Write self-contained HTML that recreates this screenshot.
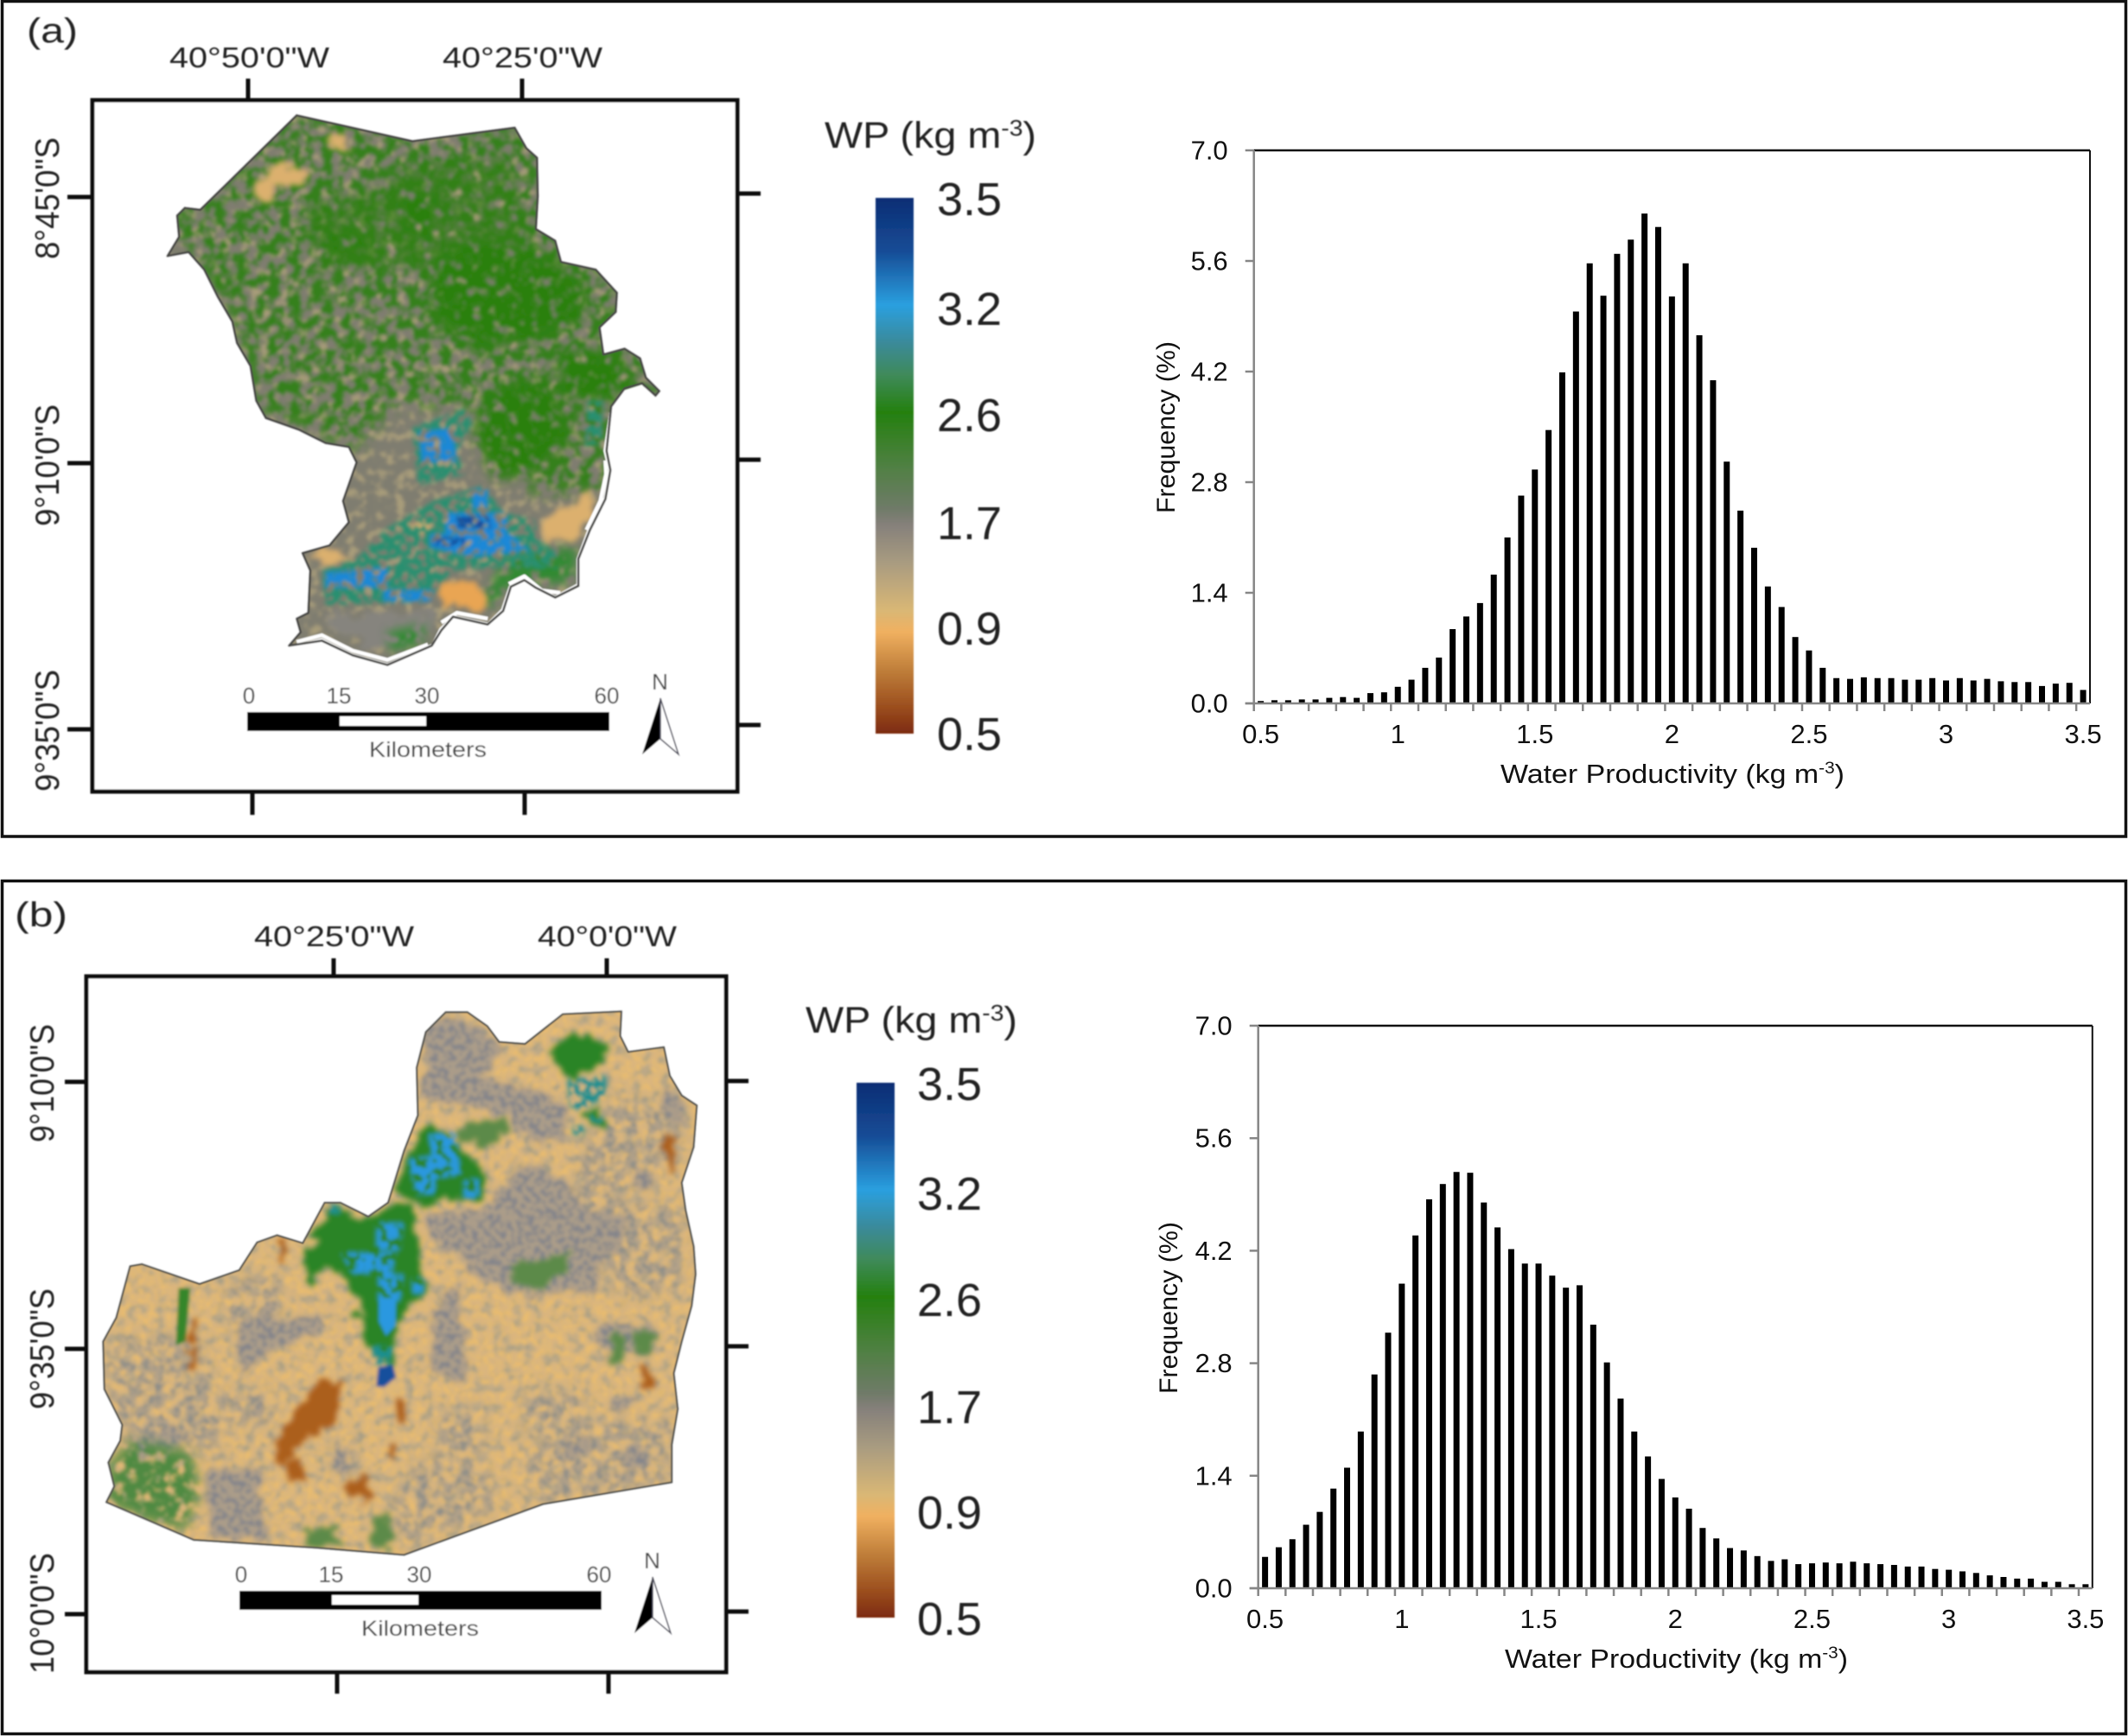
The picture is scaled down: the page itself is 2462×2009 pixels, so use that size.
<!DOCTYPE html>
<html lang="en">
<head>
<meta charset="utf-8">
<title>Water productivity maps and histograms</title>
<style>
html,body{margin:0;padding:0;background:#fff;}
svg{display:block;}
text{font-family:"Liberation Sans",Arial,sans-serif;}
</style>
</head>
<body>
<svg id="figure" xmlns="http://www.w3.org/2000/svg" width="2462" height="2009" viewBox="0 0 2462 2009">
<defs>
  <linearGradient id="wp-ramp" x1="0" y1="0" x2="0" y2="1">
    <stop offset="0" stop-color="#0b2d74"/>
    <stop offset=".1" stop-color="#164c96"/>
    <stop offset=".2" stop-color="#2a9fdf"/>
    <stop offset=".27" stop-color="#3a8a9a"/>
    <stop offset=".33" stop-color="#3f8a5a"/>
    <stop offset=".4" stop-color="#24800f"/>
    <stop offset=".5" stop-color="#4f8042"/>
    <stop offset=".58" stop-color="#6f7a68"/>
    <stop offset=".61" stop-color="#85807a"/>
    <stop offset=".68" stop-color="#a89b80"/>
    <stop offset=".77" stop-color="#d9b775"/>
    <stop offset=".81" stop-color="#f0b060"/>
    <stop offset=".88" stop-color="#c07f3a"/>
    <stop offset=".95" stop-color="#9b4e1e"/>
    <stop offset="1" stop-color="#7c2a10"/>
  </linearGradient>
  <filter id="soft" x="-2%" y="-2%" width="104%" height="104%"><feGaussianBlur stdDeviation="0.9"/></filter>
  <filter id="raster-blur" x="-2%" y="-2%" width="104%" height="104%"><feGaussianBlur stdDeviation="4"/></filter>
  <filter id="fine-a" x="-10%" y="-10%" width="120%" height="120%" color-interpolation-filters="sRGB">
    <feTurbulence type="fractalNoise" baseFrequency=".036" numOctaves="3" seed="4" result="n"/>
    <feColorMatrix in="n" type="matrix" values="0 0 0 0 0 0 0 0 0 0 0 0 0 0 0 5 0 0 0 -2.0" result="a"/>
    <feGaussianBlur in="SourceGraphic" stdDeviation="18" result="b"/>
    <feComposite in="b" in2="a" operator="in"/>
  </filter>
  <filter id="fine-b" x="-10%" y="-10%" width="120%" height="120%" color-interpolation-filters="sRGB">
    <feTurbulence type="fractalNoise" baseFrequency=".04" numOctaves="3" seed="11" result="n"/>
    <feColorMatrix in="n" type="matrix" values="0 0 0 0 0 0 0 0 0 0 0 0 0 0 0 5 0 0 0 -2.5" result="a"/>
    <feGaussianBlur in="SourceGraphic" stdDeviation="12" result="b"/>
    <feComposite in="b" in2="a" operator="in"/>
  </filter>
  <filter id="core" x="-10%" y="-10%" width="120%" height="120%" color-interpolation-filters="sRGB">
    <feTurbulence type="fractalNoise" baseFrequency=".04" numOctaves="3" seed="7" result="n"/>
    <feColorMatrix in="n" type="matrix" values="0 0 0 0 0 0 0 0 0 0 0 0 0 0 0 5 0 0 0 -1.5" result="a"/>
    <feGaussianBlur in="SourceGraphic" stdDeviation="14" result="b"/>
    <feComposite in="b" in2="a" operator="in"/>
  </filter>
  <filter id="organic" x="-15%" y="-15%" width="130%" height="130%" color-interpolation-filters="sRGB">
    <feTurbulence type="fractalNoise" baseFrequency=".025" numOctaves="3" seed="3" result="n"/>
    <feDisplacementMap in="SourceGraphic" in2="n" scale="55" xChannelSelector="R" yChannelSelector="G" result="d"/>
    <feGaussianBlur in="d" stdDeviation="6"/>
  </filter>
  <filter id="speck" x="-10%" y="-10%" width="120%" height="120%" color-interpolation-filters="sRGB">
    <feTurbulence type="fractalNoise" baseFrequency=".07" numOctaves="2" seed="21" result="n"/>
    <feColorMatrix in="n" type="matrix" values="0 0 0 0 0 0 0 0 0 0 0 0 0 0 0 7 0 0 0 -2.75" result="a"/>
    <feGaussianBlur in="SourceGraphic" stdDeviation="4" result="b"/>
    <feComposite in="b" in2="a" operator="in"/>
  </filter>
  <filter id="speck2" x="-10%" y="-10%" width="120%" height="120%" color-interpolation-filters="sRGB">
    <feTurbulence type="fractalNoise" baseFrequency=".05" numOctaves="2" seed="31" result="n"/>
    <feColorMatrix in="n" type="matrix" values="0 0 0 0 0 0 0 0 0 0 0 0 0 0 0 7 0 0 0 -2.6" result="a"/>
    <feGaussianBlur in="SourceGraphic" stdDeviation="5" result="b"/>
    <feComposite in="b" in2="a" operator="in"/>
  </filter>
  <clipPath id="clip-a"><path d="M545,30L845,97L1110,62L1140,115L1168,140L1170,240L1165,325L1215,355L1230,410L1320,430L1375,490L1372,540L1330,580L1340,650L1395,635L1435,660L1450,710L1485,745L1475,757L1440,730L1395,745L1355,800L1340,900L1352,950L1340,1020L1300,1100L1270,1180L1270,1245L1215,1275L1165,1250L1135,1230L1095,1250L1075,1310L1040,1345L950,1325L915,1360L895,1400L780,1450L690,1425L610,1385L525,1405L555,1370L545,1335L575,1320L580,1210L560,1165L630,1145L680,1085L665,1030L700,930L680,890L620,880L550,845L465,815L440,770L425,680L390,620L378,565L340,500L305,430L265,385L210,395L240,345L235,290L255,270L295,275Z"/></clipPath>
  <clipPath id="clip-b"><path d="M905,90L960,90L1010,125L1040,165L1105,170L1200,95L1348,88L1345,150L1365,190L1455,178L1470,250L1500,300L1538,325L1530,430L1500,520L1510,590L1530,680L1535,750L1525,830L1500,920L1480,1000L1490,1090L1475,1180L1475,1275L1150,1330L800,1458L580,1440L270,1420L50,1325L70,1285L55,1225L85,1170L90,1130L45,1040L42,920L75,860L110,730L140,725L285,775L385,740L430,670L480,652L545,672L600,570L640,570L710,605L760,570L800,440L835,350L832,230L855,140Z"/></clipPath>
</defs>

<rect width="2462" height="2009" fill="#fff"/>
<rect x="2.5" y="1.5" width="2457" height="966.5" fill="none" stroke="#111" stroke-width="3.5"/>
<rect x="2.5" y="1019.5" width="2457" height="987" fill="none" stroke="#111" stroke-width="3.5"/>

<!-- PANEL A MAP -->
<g filter="url(#soft)">
  <text x="31" y="49" font-size="40" fill="#222" textLength="59" lengthAdjust="spacingAndGlyphs">(a)</text>
  <rect x="107" y="116" width="746" height="800" fill="#fff" stroke="#111" stroke-width="5"/>
  <g stroke="#111" stroke-width="5">
    <path d="M287,91V116M604,91V116M292,916V943M607,916V943M78,228H107M78,536H107M78,844H107M853,224H880M853,532H880M853,839H880"/>
  </g>
  <text x="196" y="78" font-size="33" fill="#222" textLength="185" lengthAdjust="spacingAndGlyphs">40°50'0"W</text>
  <text x="512" y="78" font-size="33" fill="#222" textLength="185" lengthAdjust="spacingAndGlyphs">40°25'0"W</text>
  <text transform="translate(68,300) rotate(-90)" font-size="39" fill="#222" textLength="141" lengthAdjust="spacingAndGlyphs">8°45'0"S</text>
  <text transform="translate(68,609) rotate(-90)" font-size="39" fill="#222" textLength="141" lengthAdjust="spacingAndGlyphs">9°10'0"S</text>
  <text transform="translate(68,916) rotate(-90)" font-size="39" fill="#222" textLength="141" lengthAdjust="spacingAndGlyphs">9°35'0"S</text>

  <g transform="translate(100,120) scale(.4464)">
    <g clip-path="url(#clip-a)">
      <g filter="url(#raster-blur)">
        <rect x="150" y="0" width="1400" height="1500" fill="#7f7d70"/>
        <rect x="150" y="0" width="1400" height="1500" fill="#a89c7a" filter="url(#fine-b)"/>
        <path fill="#35801c" filter="url(#fine-a)" d="M200,300L560,0L1150,40L1220,340L1400,480L1500,740L1370,800L1340,1010L1150,1010L1000,790L800,780L700,900L450,800L360,520Z"/>
        <path fill="#2f8014" fill-opacity=".65" filter="url(#core)" d="M560,260L760,220L820,160L1090,130L1150,330L900,420L600,430Z"/>
        <path fill="#2c8010" filter="url(#core)" d="M880,420L1000,340L1170,370L1300,480L1290,560L1150,620L1000,640L900,560Z"/>
        <path fill="#2c8010" filter="url(#core)" d="M1220,640L1330,640L1440,700L1350,770L1230,760ZM1040,740L1200,700L1260,860L1180,950L1060,980L1000,860Z"/>
        <path fill="#2c8010" filter="url(#core)" d="M620,340L720,320L730,390L620,390ZM810,220L900,230L900,350L830,350ZM330,430L380,440L370,490L340,490Z"/>
        <g fill="#dcb06e" filter="url(#organic)">
          <path d="M440,200L500,150L570,170L560,215L500,215L470,260L440,250Z"/>
          <path d="M625,75L670,80L680,125L630,110Z"/>
          <path d="M1180,1085L1225,1055L1300,1010L1310,1060L1270,1130L1180,1130Z"/>
          <path d="M570,1165L640,1150L700,1190L620,1200Z"/>
          <path d="M830,1085L890,1085L880,1110L830,1110Z"/>
        </g>
        <path fill="#86847e" filter="url(#organic)" d="M620,1320L900,1320L880,1390L780,1420L640,1380Z"/>
        <path fill="#2f8a30" filter="url(#core)" d="M1090,1170L1270,1150L1260,1240L1090,1250L1060,1300L1020,1300ZM780,1370L880,1350L870,1400L790,1420Z"/>
        <path fill="#e9a552" filter="url(#organic)" d="M915,1245L1010,1235L1045,1295L1030,1315L950,1310L915,1305Z"/>
        <g fill="#2a8f70" filter="url(#speck2)">
          <path d="M845,840L980,790L1000,830L960,900L980,960L860,990Z"/>
          <path d="M900,1030L1030,990L1080,1060L1160,1080L1170,1130L1215,1160L1220,1210L1100,1200L950,1210L880,1290L620,1300L610,1210L700,1180L780,1100Z"/>
          <path d="M1300,770L1340,770L1335,880L1290,890Z"/>
        </g>
        <g fill="#1c88d8" filter="url(#speck2)">
          <path d="M860,850L950,840L960,930L870,930Z"/>
          <path d="M930,1060L1090,1060L1090,1115L930,1115Z"/>
          <path d="M890,1115L1100,1115L1150,1160L1000,1175L890,1150Z"/>
          <path d="M620,1215L780,1200L780,1255L620,1255Z"/>
          <path d="M770,1260L900,1260L890,1290L770,1290Z"/>
          <path d="M1000,1000L1040,1000L1040,1050L1000,1050Z"/>
        </g>
        <path fill="#134c9c" filter="url(#speck)" d="M960,1070L1040,1070L1050,1100L960,1100ZM900,1125L980,1125L980,1145L900,1145Z"/>
      </g>
    </g>
    <path fill="none" stroke="#fff" stroke-width="10" stroke-linejoin="round" d="M1442,733L1395,748L1360,795M1345,925L1347,960L1332,1030L1296,1105M1095,1245L1135,1225L1180,1262L1228,1268M920,1345L960,1320L1040,1335M545,1395L610,1378L690,1418L780,1442L885,1402"/>
    <path fill="none" stroke="#4a4a46" stroke-width="6" stroke-linejoin="round" d="M545,30L845,97L1110,62L1140,115L1168,140L1170,240L1165,325L1215,355L1230,410L1320,430L1375,490L1372,540L1330,580L1340,650L1395,635L1435,660L1450,710L1485,745L1475,757L1440,725L1395,738L1360,785L1348,900L1358,950L1345,1025L1305,1105L1275,1180L1275,1250L1215,1280L1165,1255L1135,1235L1100,1252L1080,1315L1040,1350L950,1330L920,1365L895,1405L780,1455L690,1430L610,1392L525,1405L555,1370L545,1335L575,1320L580,1210L560,1165L630,1145L680,1085L665,1030L700,930L680,890L620,880L550,845L465,815L440,770L425,680L390,620L378,565L340,500L305,430L265,385L210,395L240,345L235,290L255,270L295,275Z"/>
  </g>

  <g>
    <rect x="286" y="824" width="419" height="22" fill="#000"/>
    <rect x="393" y="829" width="100" height="11" fill="#fff"/>
    <g font-size="26" fill="#444" text-anchor="middle">
      <text x="288" y="814">0</text>
      <text x="392" y="814">15</text>
      <text x="494" y="814">30</text>
      <text x="702" y="814">60</text>
    </g>
    <text x="427" y="876" font-size="25" fill="#444" textLength="136" lengthAdjust="spacingAndGlyphs">Kilometers</text>
  </g>
  <g>
    <text x="763.5" y="798" font-size="26" fill="#444" text-anchor="middle">N</text>
    <path d="M764,808L743,873L764,855Z" fill="#000"/>
    <path d="M764,808L785,873L764,855Z" fill="#fff" stroke="#445" stroke-width="1.5"/>
  </g>
</g>

<!-- PANEL A LEGEND -->
<g filter="url(#soft)">
  <text x="954" y="171" font-size="43" fill="#222" textLength="245" lengthAdjust="spacingAndGlyphs">WP (kg m<tspan font-size="26" dy="-14">-3</tspan><tspan dy="14">)</tspan></text>
  <rect x="1013" y="229" width="44" height="620" fill="url(#wp-ramp)"/>
  <g font-size="54" fill="#222">
    <text x="1084" y="249">3.5</text>
    <text x="1084" y="376">3.2</text>
    <text x="1084" y="499">2.6</text>
    <text x="1084" y="624">1.7</text>
    <text x="1084" y="746">0.9</text>
    <text x="1084" y="868">0.5</text>
  </g>
</g>

<!-- PANEL B MAP -->
<g filter="url(#soft)">
  <text x="17" y="1072" font-size="40" fill="#222" textLength="61" lengthAdjust="spacingAndGlyphs">(b)</text>
  <rect x="100" y="1130" width="740" height="805" fill="#fff" stroke="#111" stroke-width="5"/>
  <g stroke="#111" stroke-width="5">
    <path d="M386,1109V1130M702,1109V1130M390,1935V1960M704,1935V1960M75,1252H100M75,1561H100M75,1868H100M840,1251H866M840,1558H866M840,1865H866"/>
  </g>
  <text x="294" y="1095" font-size="33" fill="#222" textLength="185" lengthAdjust="spacingAndGlyphs">40°25'0"W</text>
  <text x="622" y="1095" font-size="33" fill="#222" textLength="161" lengthAdjust="spacingAndGlyphs">40°0'0"W</text>
  <text transform="translate(62,1322) rotate(-90)" font-size="39" fill="#222" textLength="137" lengthAdjust="spacingAndGlyphs">9°10'0"S</text>
  <text transform="translate(62,1631) rotate(-90)" font-size="39" fill="#222" textLength="140" lengthAdjust="spacingAndGlyphs">9°35'0"S</text>
  <text transform="translate(62,1937) rotate(-90)" font-size="39" fill="#222" textLength="140" lengthAdjust="spacingAndGlyphs">10°0'0"S</text>

  <g transform="translate(100,1130) scale(.4592)">
    <g clip-path="url(#clip-b)">
      <g filter="url(#raster-blur)">
        <rect x="0" y="50" width="1600" height="1450" fill="#e8bb70"/>
        <rect x="0" y="50" width="1600" height="1450" fill="#a89f84" filter="url(#fine-b)"/>
        <g fill="#8d8d88" filter="url(#fine-a)">
          <path d="M50,920L280,900L350,1100L330,1200L100,1180L50,1040Z"/>
          <path d="M1180,1130L1480,1110L1480,1280L1150,1330L1100,1230Z"/>
          <path d="M820,1230L1000,1210L1040,1340L800,1440L760,1350Z"/>
          <path d="M1290,560L1510,580L1500,780L1350,820L1280,700Z"/>
          <path d="M1230,620L1500,450L1500,340L1330,300L1230,480Z"/>
          <path d="M350,780L490,740L490,850L350,900Z"/>
          <path d="M350,1040L480,1040L480,1130L350,1130Z"/>
          <path d="M620,1160L680,1160L680,1260L620,1260Z"/>
          <path d="M880,1100L1000,1080L1000,1200L880,1220Z"/>
          <path d="M1100,1050L1250,1040L1250,1150L1100,1160Z"/>
        </g>
        <g fill="#84858a" filter="url(#organic)">
          <path d="M860,105L1010,130L1040,190L1000,260L1080,280L1200,320L1210,420L1120,410L1060,350L950,330L850,300L850,190Z"/>
          <path d="M850,600L1010,580L1090,470L1210,510L1240,580L1360,600L1340,680L1280,730L1250,790L1100,800L1000,770L950,710L870,660Z"/>
          <path d="M890,800L940,780L950,900L955,1020L880,1000L860,960Z"/>
          <path d="M1300,870L1430,885L1425,950L1310,960L1285,910Z"/>
          <path d="M380,880L470,830L480,870L610,865L565,905L470,945L380,1010Z"/>
          <path d="M310,1240L440,1240L450,1420L310,1410Z"/>
          <path d="M100,1170L220,1140L270,1180L130,1210Z"/>
          <path d="M1320,1050L1375,1050L1375,1095L1320,1095Z"/>
          <path d="M1210,1165L1270,1165L1270,1215L1210,1215Z"/>
          <path d="M1360,1190L1410,1190L1410,1235L1360,1235Z"/>
          <path d="M1450,275L1510,320L1520,380L1470,360Z"/>
          <path d="M1385,495L1420,495L1420,535L1385,535Z"/>
          <path d="M415,1075L450,1075L450,1110L415,1110Z"/>
          <path d="M625,1195L665,1195L665,1250L625,1250Z"/>
          <path d="M1190,700L1290,700L1280,800L1200,790Z"/>
        </g>
        <rect x="0" y="50" width="1600" height="1450" fill="#cdb088" fill-opacity=".55" filter="url(#speck)"/>
        <g fill="#5b8a48" filter="url(#organic)">
          <path d="M940,375L1055,355L1060,385L1000,430L950,420Z"/>
          <path d="M1065,725L1225,700L1185,755L1140,795L1075,760Z"/>
          <path d="M1380,890L1435,895L1430,950L1385,950Z"/>
          <path d="M1320,905L1360,905L1350,975L1320,975Z"/>
          <path d="M555,1395L630,1390L640,1430L550,1435Z"/>
          <path d="M720,1360L770,1360L780,1440L725,1440Z"/>
        </g>
        <path fill="#4f8a42" filter="url(#core)" d="M60,1225L110,1170L190,1180L265,1200L285,1300L250,1395L150,1370L50,1325Z"/>
        <path fill="#35862c" d="M232,785L262,785L250,920L225,930Z"/>
        <g fill="#2a8426" filter="url(#organic)">
          <path d="M860,355L930,420L1005,500L1000,560L830,570L775,540L815,440Z"/>
          <path d="M825,580L845,730L860,790L830,830L785,860L770,980L730,960L690,880L660,770L610,730L570,770L540,745L555,690L590,620L620,590L710,610L770,575Z"/>
          <path d="M1160,180L1250,140L1310,180L1300,220L1210,260Z"/>
          <path d="M1260,340L1300,335L1300,375L1260,385Z"/>
        </g>
        <g fill="#1f8f90" filter="url(#speck2)">
          <path d="M1210,260L1310,250L1310,300L1250,340L1220,330Z"/>
          <path d="M1270,345L1300,345L1300,370L1270,370Z"/>
          <path d="M1225,375L1255,375L1255,400L1225,400Z"/>
          <path d="M605,575L640,575L640,600L605,600Z"/>
          <path d="M715,930L775,930L765,980L730,980Z"/>
        </g>
        <g fill="#2a98e0" filter="url(#speck2)">
          <path d="M860,395L930,395L945,500L880,510Z"/>
          <path d="M810,460L880,450L880,550L830,550Z"/>
          <path d="M950,510L990,510L990,560L950,560Z"/>
          <path d="M730,620L800,620L790,690L730,690Z"/>
          <path d="M640,695L780,695L770,750L670,750Z"/>
          <path d="M735,750L800,750L790,820L735,820Z"/>
          <path d="M820,760L850,760L850,800L820,800Z"/>
        </g>
        <path fill="#2a98e0" d="M737,810L780,810L778,880L755,905L737,870Z"/>
        <path fill="#16509c" d="M735,985L772,978L780,1010L750,1035L730,1033Z"/>
        <g fill="#ab5e1c" filter="url(#organic)">
          <path d="M600,1015L640,1025L635,1085L610,1130L540,1170L515,1220L475,1225L485,1150L555,1065Z"/>
          <path d="M505,1225L550,1225L550,1265L505,1265Z"/>
          <path d="M650,1280L700,1260L720,1315L665,1315Z"/>
          <path d="M765,1065L805,1065L805,1130L780,1130Z"/>
          <path d="M258,870L280,870L275,930L258,930Z"/>
          <path d="M258,940L275,940L272,1000L258,1000Z"/>
          <path d="M482,660L505,660L510,720L495,720Z"/>
          <path d="M1455,400L1480,400L1480,500L1460,500Z"/>
          <path d="M1400,990L1420,990L1420,1045L1400,1045Z"/>
          <path d="M760,1170L785,1170L785,1205L760,1205Z"/>
        </g>
      </g>
    </g>
    <path fill="none" stroke="#55554f" stroke-width="5" stroke-linejoin="round" d="M905,90L960,90L1010,125L1040,165L1105,170L1200,95L1348,88L1345,150L1365,190L1455,178L1470,250L1500,300L1538,325L1530,430L1500,520L1510,590L1530,680L1535,750L1525,830L1500,920L1480,1000L1490,1090L1475,1180L1475,1275L1150,1330L800,1458L580,1440L270,1420L50,1325L70,1285L55,1225L85,1170L90,1130L45,1040L42,920L75,860L110,730L140,725L285,775L385,740L430,670L480,652L545,672L600,570L640,570L710,605L760,570L800,440L835,350L832,230L855,140Z"/>
  </g>

  <g>
    <rect x="277" y="1841" width="419" height="22" fill="#000"/>
    <rect x="384" y="1846" width="100" height="11" fill="#fff"/>
    <g font-size="26" fill="#444" text-anchor="middle">
      <text x="279" y="1831">0</text>
      <text x="383" y="1831">15</text>
      <text x="485" y="1831">30</text>
      <text x="693" y="1831">60</text>
    </g>
    <text x="418" y="1893" font-size="25" fill="#444" textLength="136" lengthAdjust="spacingAndGlyphs">Kilometers</text>
  </g>
  <g>
    <text x="754.5" y="1815" font-size="26" fill="#444" text-anchor="middle">N</text>
    <path d="M755,1825L734,1890L755,1872Z" fill="#000"/>
    <path d="M755,1825L776,1890L755,1872Z" fill="#fff" stroke="#445" stroke-width="1.5"/>
  </g>
</g>

<!-- PANEL B LEGEND -->
<g filter="url(#soft)">
  <text x="932" y="1195" font-size="43" fill="#222" textLength="245" lengthAdjust="spacingAndGlyphs">WP (kg m<tspan font-size="26" dy="-14">-3</tspan><tspan dy="14">)</tspan></text>
  <rect x="991" y="1253" width="44" height="619" fill="url(#wp-ramp)"/>
  <g font-size="54" fill="#222">
    <text x="1061" y="1273">3.5</text>
    <text x="1061" y="1400">3.2</text>
    <text x="1061" y="1523">2.6</text>
    <text x="1061" y="1647">1.7</text>
    <text x="1061" y="1769">0.9</text>
    <text x="1061" y="1892">0.5</text>
  </g>
</g>

<g id="chart-a"></g>
<g id="chart-b"></g>
</svg>

<script>
var categories = [0.5,0.55,0.6,0.65,0.7,0.75,0.8,0.85,0.9,0.95,1,1.05,1.1,1.15,1.2,1.25,1.3,1.35,1.4,1.45,1.5,1.55,1.6,1.65,1.7,1.75,1.8,1.85,1.9,1.95,2,2.05,2.1,2.15,2.2,2.25,2.3,2.35,2.4,2.45,2.5,2.55,2.6,2.65,2.7,2.75,2.8,2.85,2.9,2.95,3,3.05,3.1,3.15,3.2,3.25,3.3,3.35,3.4,3.45,3.5];
var frequencyA = [0.03,0.04,0.04,0.05,0.05,0.07,0.08,0.07,0.13,0.14,0.21,0.30,0.45,0.58,0.94,1.10,1.27,1.63,2.10,2.63,2.96,3.46,4.19,4.96,5.57,5.16,5.69,5.87,6.20,6.03,5.15,5.57,4.66,4.09,3.06,2.44,1.97,1.48,1.22,0.84,0.67,0.45,0.32,0.31,0.33,0.32,0.32,0.30,0.30,0.32,0.29,0.32,0.29,0.31,0.28,0.27,0.27,0.22,0.25,0.26,0.17];
var frequencyB = [0.39,0.51,0.61,0.79,0.95,1.24,1.50,1.95,2.66,3.18,3.79,4.39,4.84,5.03,5.18,5.17,4.80,4.49,4.22,4.04,4.04,3.89,3.74,3.77,3.28,2.81,2.36,1.95,1.64,1.36,1.13,0.99,0.75,0.62,0.50,0.47,0.40,0.34,0.36,0.30,0.31,0.32,0.31,0.33,0.31,0.30,0.29,0.27,0.27,0.24,0.23,0.21,0.19,0.16,0.14,0.12,0.12,0.08,0.08,0.05,0.05];
var yTicks = [0,1.4,2.8,4.2,5.6,7];
var xTickLabels = ["0.5","1","1.5","2","2.5","3","3.5"];
var yMax = 7;

var NS = 'http://www.w3.org/2000/svg';
function el(parent, tag, attrs, txt) {
  var e = document.createElementNS(NS, tag);
  for (var k in attrs) e.setAttribute(k, attrs[k]);
  if (txt !== undefined) e.textContent = txt;
  parent.appendChild(e);
  return e;
}
function drawHistogram(id, values, left, right, top, bottom, xTitleX, xTitleLen, yTitleX, yTitleEnd) {
  var g = document.getElementById(id);
  var band = (right - left) / categories.length;
  var barWidth = 7;
  function xPos(i) { return left + (i + 0.5) * band; }
  function xFromValue(v) { return xPos(categories.indexOf(v)); }
  function yPos(v) { return bottom - (v / yMax) * (bottom - top); }

  values.forEach(function (v, i) {
    var bar = el(g, 'rect', { x: xPos(i) - barWidth / 2, y: yPos(v), width: barWidth, height: bottom - yPos(v), fill: '#000' });
    
    
  });

  var topLine = el(g, 'line', { x1: left, y1: top, x2: right, y2: top, stroke: '#111', 'stroke-width': 2.5 });
  
  
  var rightLine = el(g, 'line', { x1: right, y1: top, x2: right, y2: bottom, stroke: '#111', 'stroke-width': 2 });
  
  
  var yAxis = el(g, 'line', { x1: left, y1: top, x2: left, y2: bottom, stroke: '#868686', 'stroke-width': 2.5 });
  
  
  var xAxis = el(g, 'line', { x1: left - 10, y1: bottom, x2: right, y2: bottom, stroke: '#868686', 'stroke-width': 2.5 });
  
  

  for (var t = 0; t <= categories.length; t += 2) {
    var xt = left + t * band;
    var tick = el(g, 'line', { x1: xt, y1: bottom, x2: xt, y2: bottom + 9, stroke: '#868686', 'stroke-width': 2.5 });
    
    
  }
  yTicks.forEach(function (v) {
    var yt = yPos(v);
    var tick = el(g, 'line', { x1: left - 10, y1: yt, x2: left, y2: yt, stroke: '#868686', 'stroke-width': 2.5 });
    
    
    var lab = el(g, 'text', { x: left - 30, y: yt + 10.5, 'font-size': 31, 'text-anchor': 'end', fill: '#111' }, v.toFixed(1));
    
    
  });
  xTickLabels.forEach(function (s) {
    var lab = el(g, 'text', { x: xFromValue(parseFloat(s)), y: bottom + 46, 'font-size': 31, 'text-anchor': 'middle', fill: '#111' }, s);
    
    
  });

  var xTitle = el(g, 'text', { x: xTitleX, y: bottom + 92, 'font-size': 31, fill: '#111', textLength: xTitleLen, lengthAdjust: 'spacingAndGlyphs' }, 'Water Productivity (kg m');
  
  
  var sup = el(xTitle, 'tspan', { 'font-size': 19, dy: -11 }, '-3');
  
  
  var close = el(xTitle, 'tspan', { dy: 11 }, ')');
  
  

  var yTitle = el(g, 'text', { transform: 'translate(' + yTitleX + ',' + yTitleEnd + ') rotate(-90)', 'font-size': 30, fill: '#111', textLength: 199, lengthAdjust: 'spacingAndGlyphs' }, 'Frequency (%)');
  
  
}
drawHistogram('chart-a', frequencyA, 1450.7, 2418, 174, 814, 1736, 398, 1359, 594);
drawHistogram('chart-b', frequencyB, 1455.7, 2420.8, 1187, 1838, 1741, 397, 1362, 1613);
</script>
</body>
</html>
